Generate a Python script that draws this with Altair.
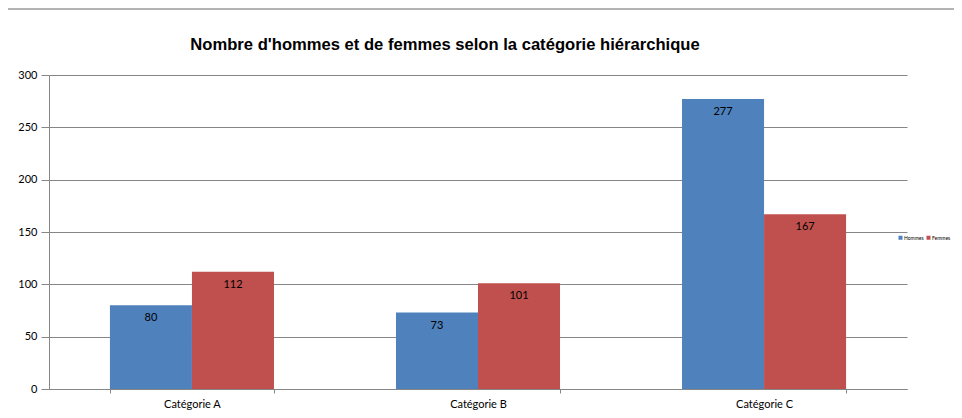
import altair as alt
import pandas as pd

categories = ["Catégorie A", "Catégorie B", "Catégorie C"]
series = ["Hommes", "Femmes"]
hommes = [80, 73, 277]
femmes = [112, 101, 167]
colors = ["#4F81BD", "#C0504D"]
title_text = "Nombre d'hommes et de femmes selon la catégorie hiérarchique"

rows = []
for c, h, f in zip(categories, hommes, femmes):
    rows.append({"cat": c, "serie": "Hommes", "val": h})
    rows.append({"cat": c, "serie": "Femmes", "val": f})
df = pd.DataFrame(rows)

x = alt.X("cat:N", sort=categories, title=None,
          scale=alt.Scale(paddingInner=0.4265, paddingOuter=0.213),
          axis=alt.Axis(labelAngle=0, labelFont="Lato", labelFontSize=11,
                        labelColor="#000000", domainColor="#868686",
                        tickColor="#868686", tickSize=4, tickBand="extent",
                        labelPadding=5, grid=False))
xo = alt.XOffset("serie:N", sort=series)

base = alt.Chart(df)

frame = alt.Chart(pd.DataFrame({"a": [0]})).mark_rect(
    filled=False, stroke="#9a9a9a", strokeWidth=1.5
).encode(x=alt.value(-43), x2=alt.value(1000), y=alt.value(-66), y2=alt.value(400))

title = alt.Chart(pd.DataFrame({"t": [title_text]})).mark_text(
    font="Liberation Sans", fontSize=16.6, fontWeight="bold", color="#000000",
    align="center", baseline="middle"
).encode(x=alt.value(396), y=alt.value(-30), text="t:N")

bars = base.mark_bar().encode(
    x=x, xOffset=xo,
    y=alt.Y("val:Q", title=None,
            scale=alt.Scale(domain=[0, 300]),
            axis=alt.Axis(values=[0, 50, 100, 150, 200, 250, 300],
                          labelFont="Lato", labelFontSize=11, labelColor="#000000",
                          gridColor="#868686", domainColor="#868686",
                          tickColor="#868686", tickSize=8, labelPadding=4)),
    color=alt.Color("serie:N", sort=series,
                    scale=alt.Scale(domain=series, range=colors),
                    legend=alt.Legend(title=None, orient="none", legendX=849, legendY=160,
                                      direction="horizontal", symbolType="square",
                                      symbolSize=16, labelFontSize=5, labelFont="Lato",
                                      columnPadding=2, labelOffset=1,
                                      symbolStrokeWidth=0)),
)

labels = base.mark_text(baseline="top", dy=7, font="Lato", fontSize=11, color="#000000").encode(
    x=x, xOffset=xo, y="val:Q", text="val:Q"
)

chart = alt.layer(frame, bars, labels, title).properties(
    width=858, height=314,
    autosize=alt.AutoSizeParams(type="none"),
    padding={"left": 41, "top": 67, "right": 47, "bottom": 21},
).configure_view(stroke=None)

chart.save("out.html", embed_options={"renderer": "svg", "actions": False})
